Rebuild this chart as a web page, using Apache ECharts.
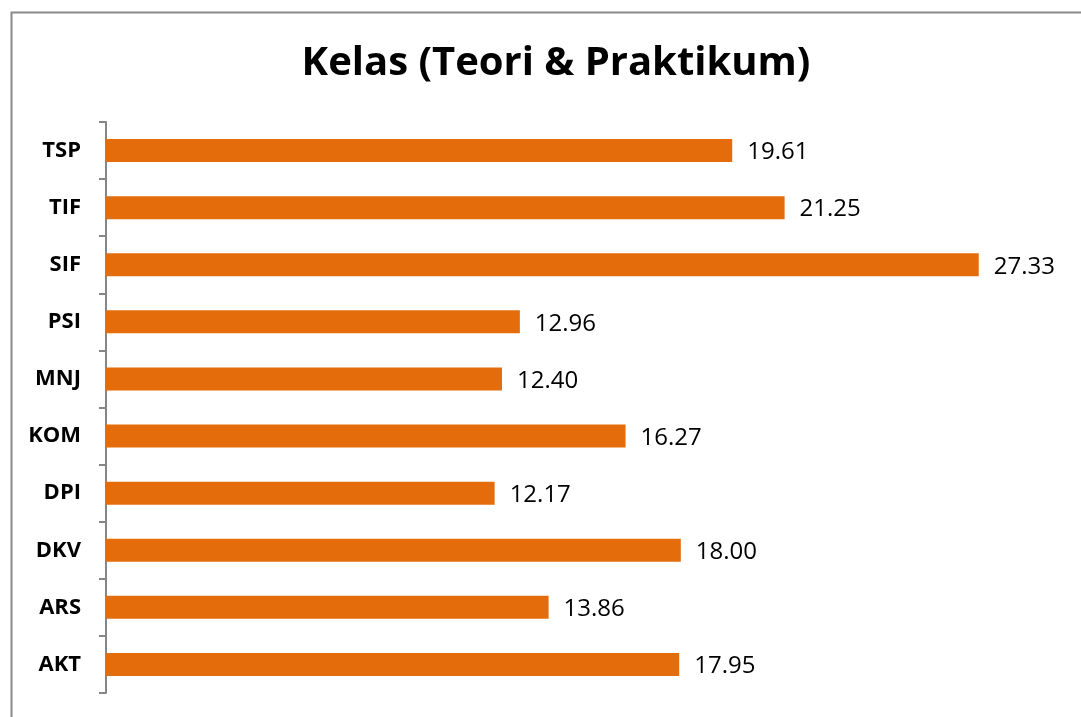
<!DOCTYPE html>
<html>
<head>
<meta charset="utf-8">
<script src="https://cdn.jsdelivr.net/npm/echarts@6/dist/echarts.min.js"></script>
<style>
  html, body { margin: 0; padding: 0; background: #fff; }
  #chart { width: 1081px; height: 717px; }
</style>
</head>
<body>
<div id="chart"></div>
<script>
// kategori dari atas ke bawah
var categories = ['TSP', 'TIF', 'SIF', 'PSI', 'MNJ', 'KOM', 'DPI', 'DKV', 'ARS', 'AKT'];
var values = [19.61, 21.25, 27.33, 12.96, 12.40, 16.27, 12.17, 18.00, 13.86, 17.95];

var chart = echarts.init(document.getElementById('chart'));

chart.setOption({
  animation: false,
  title: {
    text: 'Kelas (Teori & Praktikum)',
    left: 551,
    top: 39,
    textAlign: 'center',
    textStyle: { fontFamily: 'Open Sans', fontWeight: 'bold', fontSize: 40, color: '#000' }
  },
  graphic: [{
    type: 'rect',
    left: 9,
    top: 10,
    shape: { width: 1200, height: 800 },
    style: { fill: 'none', stroke: '#8a8a8a', lineWidth: 2 },
    silent: true
  }],
  grid: { left: 106, top: 122, width: 958, height: 571 },
  xAxis: {
    type: 'value',
    min: 0,
    max: 30,
    show: false
  },
  yAxis: {
    type: 'category',
    data: categories,
    inverse: true,
    axisLine: { show: true, lineStyle: { color: '#868686', width: 2 } },
    axisTick: { show: true, inside: false, length: 7, lineStyle: { color: '#868686', width: 2 } },
    axisLabel: {
      margin: 25,
      fontFamily: 'Open Sans',
      fontWeight: 'bold',
      fontSize: 22,
      color: '#000'
    }
  },
  series: [{
    type: 'bar',
    data: values,
    barWidth: 23,
    itemStyle: { color: '#E46C0A' },
    label: {
      show: true,
      position: 'right',
      distance: 15,
      offset: [0, 2],
      fontFamily: 'Open Sans',
      fontSize: 24,
      color: '#000',
      formatter: function(p) { return p.value.toFixed(2); }
    }
  }]
});
</script>
</body>
</html>
